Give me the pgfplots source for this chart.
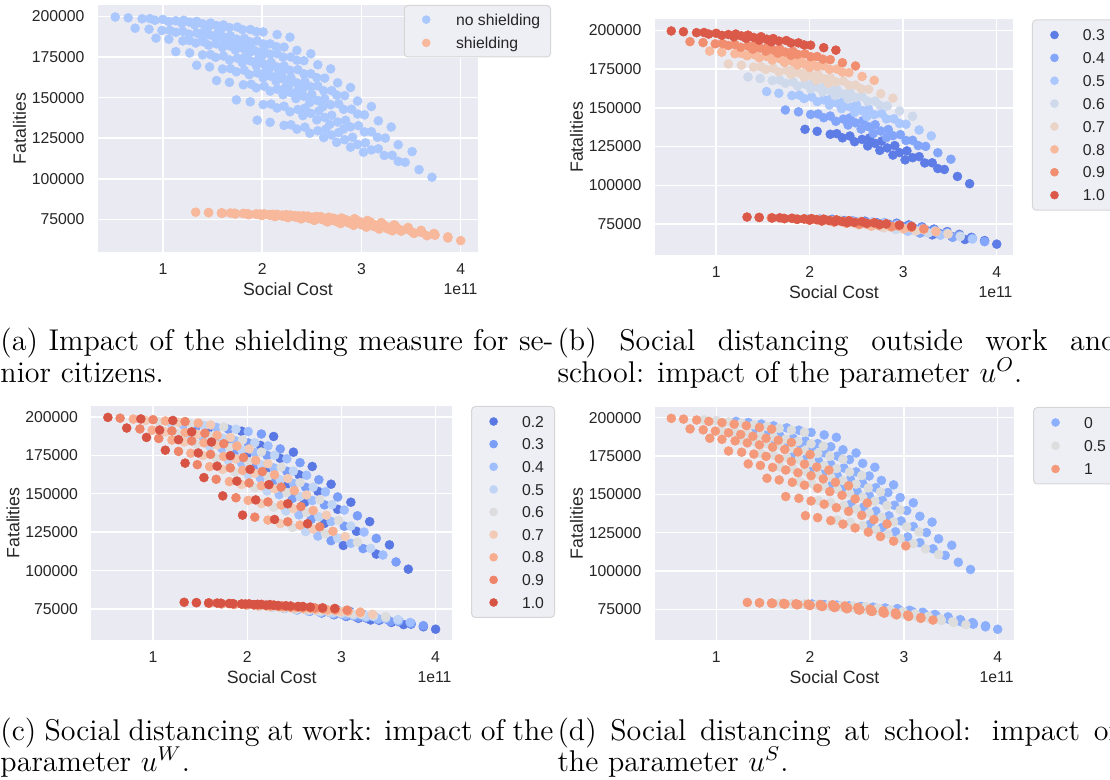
\documentclass[border=0pt]{standalone}
\usepackage{fontspec}
\usepackage{pgfplots}
\usepackage{pgfplotstable}
\pgfplotsset{compat=1.18}
\newfontfamily\snsfont{Liberation Sans}
\newcommand\tickf{\snsfont\fontsize{6.3}{7.6}\selectfont}
\newcommand\labf{\snsfont\fontsize{7.1}{8.5}\selectfont}
\newcommand\capf{\fontsize{12}{12.7}\selectfont}
\definecolor{sbg}{HTML}{EAEAF2}
\definecolor{stxt}{HTML}{262626}
\definecolor{lgfill}{HTML}{EEEEF5}
\definecolor{lgedge}{HTML}{D6D6D6}
\definecolor{aN}{HTML}{AAC7FE}
\definecolor{aS}{HTML}{F7B89B}
\definecolor{bO3}{HTML}{5D7CE6}
\definecolor{bO4}{HTML}{83A6FB}
\definecolor{bO5}{HTML}{AAC7FE}
\definecolor{bO6}{HTML}{CED9EC}
\definecolor{bO7}{HTML}{EAD4C8}
\definecolor{bO8}{HTML}{F7B89B}
\definecolor{bO9}{HTML}{F18E70}
\definecolor{bO10}{HTML}{DA5948}
\definecolor{cW2}{HTML}{5978E3}
\definecolor{cW3}{HTML}{7B9EF9}
\definecolor{cW4}{HTML}{9FBEFF}
\definecolor{cW5}{HTML}{C0D4F5}
\definecolor{cW6}{HTML}{DDDDDD}
\definecolor{cW7}{HTML}{F2CAB6}
\definecolor{cW8}{HTML}{F7AD8E}
\definecolor{cW9}{HTML}{EE8568}
\definecolor{cW10}{HTML}{D75344}
\definecolor{dS0}{HTML}{8DB0FE}
\definecolor{dS5}{HTML}{DDDDDD}
\definecolor{dS10}{HTML}{F49A7B}

% columns: social cost (1e11), fatalities, 10*u^O, 10*u^W, 10*u^S, shielding (0 = no, 1 = yes)
\pgfplotstableread{
x y o w s h
3.71 101000 3 2 0 0
3.37 110800 3 2 5 0
3.02 116400 3 2 10 0
3.58 105700 3 3 0 0
3.23 114400 3 3 5 0
2.89 119500 3 3 10 0
3.44 110200 3 4 0 0
3.10 117800 3 4 5 0
2.75 122500 3 4 10 0
3.31 114500 3 5 0 0
2.96 121100 3 5 5 0
2.62 125400 3 5 10 0
3.17 118500 3 6 0 0
2.83 124100 3 6 5 0
2.48 128100 3 6 10 0
3.04 122200 3 7 0 0
2.70 127000 3 7 5 0
2.35 130600 3 7 10 0
2.91 125600 3 8 0 0
2.56 129600 3 8 5 0
2.22 132900 3 8 10 0
2.77 128500 3 9 0 0
2.43 131800 3 9 5 0
2.08 134800 3 9 10 0
2.64 130500 3 10 0 0
2.29 133300 3 10 5 0
1.95 136100 3 10 10 0
3.51 116800 4 2 0 0
3.16 125600 4 2 5 0
2.82 130700 4 2 10 0
3.37 121000 4 3 0 0
3.03 128900 4 3 5 0
2.68 133500 4 3 10 0
3.24 125100 4 4 0 0
2.89 132000 4 4 5 0
2.55 136300 4 4 10 0
3.10 129000 4 5 0 0
2.76 135000 4 5 5 0
2.41 138900 4 5 10 0
2.97 132700 4 6 0 0
2.63 137800 4 6 5 0
2.28 141300 4 6 10 0
2.84 136000 4 7 0 0
2.49 140300 4 7 5 0
2.15 143600 4 7 10 0
2.70 139100 4 8 0 0
2.36 142700 4 8 5 0
2.01 145700 4 8 10 0
2.57 141700 4 9 0 0
2.22 144700 4 9 5 0
1.88 147400 4 9 10 0
2.43 143500 4 10 0 0
2.09 146000 4 10 5 0
1.74 148600 4 10 10 0
3.30 131900 5 2 0 0
2.96 139900 5 2 5 0
2.61 144400 5 2 10 0
3.17 135700 5 3 0 0
2.82 142800 5 3 5 0
2.48 147000 5 3 10 0
3.03 139400 5 4 0 0
2.69 145600 5 4 5 0
2.34 149400 5 4 10 0
2.90 142900 5 5 0 0
2.56 148200 5 5 5 0
2.21 151800 5 5 10 0
2.77 146200 5 6 0 0
2.42 150800 5 6 5 0
2.08 154000 5 6 10 0
2.63 149200 5 7 0 0
2.29 153100 5 7 5 0
1.94 156000 5 7 10 0
2.50 152000 5 8 0 0
2.15 155200 5 8 5 0
1.81 157900 5 8 10 0
2.36 154300 5 9 0 0
2.02 157000 5 9 5 0
1.67 159400 5 9 10 0
2.23 155900 5 10 0 0
1.89 158200 5 10 5 0
1.54 160500 5 10 10 0
3.10 144500 6 2 0 0
2.75 151600 6 2 5 0
2.41 155600 6 2 10 0
2.96 147900 6 3 0 0
2.62 154200 6 3 5 0
2.27 157900 6 3 10 0
2.83 151200 6 4 0 0
2.49 156700 6 4 5 0
2.14 160100 6 4 10 0
2.70 154300 6 5 0 0
2.35 159000 6 5 5 0
2.01 162200 6 5 10 0
2.56 157200 6 6 0 0
2.22 161300 6 6 5 0
1.87 164100 6 6 10 0
2.43 159900 6 7 0 0
2.08 163300 6 7 5 0
1.74 165900 6 7 10 0
2.29 162300 6 8 0 0
1.95 165200 6 8 5 0
1.60 167600 6 8 10 0
2.16 164400 6 9 0 0
1.82 166800 6 9 5 0
1.47 168900 6 9 10 0
2.03 165800 6 10 0 0
1.68 167900 6 10 5 0
1.34 169900 6 10 10 0
2.89 156200 7 2 0 0
2.55 162300 7 2 5 0
2.20 165800 7 2 10 0
2.76 159100 7 3 0 0
2.42 164600 7 3 5 0
2.07 167800 7 3 10 0
2.63 162000 7 4 0 0
2.28 166800 7 4 5 0
1.94 169700 7 4 10 0
2.49 164700 7 5 0 0
2.15 168800 7 5 5 0
1.80 171500 7 5 10 0
2.36 167200 7 6 0 0
2.01 170800 7 6 5 0
1.67 173200 7 6 10 0
2.22 169500 7 7 0 0
1.88 172600 7 7 5 0
1.53 174800 7 7 10 0
2.09 171700 7 8 0 0
1.75 174200 7 8 5 0
1.40 176300 7 8 10 0
1.96 173500 7 9 0 0
1.61 175600 7 9 5 0
1.27 177500 7 9 10 0
1.82 174700 7 10 0 0
1.48 176500 7 10 5 0
1.13 178300 7 10 10 0
2.69 167700 8 2 0 0
2.35 173000 8 2 5 0
2.00 176000 8 2 10 0
2.56 170200 8 3 0 0
2.21 174900 8 3 5 0
1.87 177700 8 3 10 0
2.42 172700 8 4 0 0
2.08 176700 8 4 5 0
1.73 179300 8 4 10 0
2.29 175000 8 5 0 0
1.94 178500 8 5 5 0
1.60 180800 8 5 10 0
2.15 177100 8 6 0 0
1.81 180200 8 6 5 0
1.46 182300 8 6 10 0
2.02 179100 8 7 0 0
1.68 181700 8 7 5 0
1.33 183600 8 7 10 0
1.89 181000 8 8 0 0
1.54 183100 8 8 5 0
1.20 184900 8 8 10 0
1.75 182500 8 9 0 0
1.41 184300 8 9 5 0
1.06 185900 8 9 10 0
1.62 183600 8 10 0 0
1.27 185100 8 10 5 0
0.93 186600 8 10 10 0
2.49 177000 9 2 0 0
2.14 181400 9 2 5 0
1.80 183900 9 2 10 0
2.35 179100 9 3 0 0
2.01 183000 9 3 5 0
1.66 185300 9 3 10 0
2.22 181100 9 4 0 0
1.87 184500 9 4 5 0
1.53 186600 9 4 10 0
2.08 183100 9 5 0 0
1.74 186000 9 5 5 0
1.39 187900 9 5 10 0
1.95 184900 9 6 0 0
1.61 187400 9 6 5 0
1.26 189100 9 6 10 0
1.82 186500 9 7 0 0
1.47 188600 9 7 5 0
1.13 190200 9 7 10 0
1.68 188000 9 8 0 0
1.34 189800 9 8 5 0
0.99 191300 9 8 10 0
1.55 189300 9 9 0 0
1.20 190800 9 9 5 0
0.86 192100 9 9 10 0
1.41 190200 9 10 0 0
1.07 191400 9 10 5 0
0.72 192700 9 10 10 0
2.28 187200 10 2 0 0
1.94 190600 10 2 5 0
1.59 192600 10 2 10 0
2.15 188800 10 3 0 0
1.80 191900 10 3 5 0
1.46 193700 10 3 10 0
2.01 190400 10 4 0 0
1.67 193100 10 4 5 0
1.32 194800 10 4 10 0
1.88 191900 10 5 0 0
1.54 194300 10 5 5 0
1.19 195800 10 5 10 0
1.75 193400 10 6 0 0
1.40 195400 10 6 5 0
1.06 196800 10 6 10 0
1.61 194700 10 7 0 0
1.27 196400 10 7 5 0
0.92 197600 10 7 10 0
1.48 195900 10 8 0 0
1.13 197300 10 8 5 0
0.79 198500 10 8 10 0
1.34 196900 10 9 0 0
1.00 198100 10 9 5 0
0.65 199100 10 9 10 0
1.21 197600 10 10 0 0
0.87 198600 10 10 5 0
0.52 199600 10 10 10 0
4.00 62000 3 2 0 1
3.66 65000 3 2 5 1
3.31 68000 3 2 10 1
3.87 64300 3 3 0 1
3.52 67000 3 3 5 1
3.18 69700 3 3 10 1
3.73 66400 3 4 0 1
3.39 68800 3 4 5 1
3.04 71300 3 4 10 1
3.60 68300 3 5 0 1
3.26 70500 3 5 5 1
2.91 72700 3 5 10 1
3.47 70100 3 6 0 1
3.12 72100 3 6 5 1
2.78 74000 3 6 10 1
3.33 71700 3 7 0 1
2.99 73500 3 7 5 1
2.64 75200 3 7 10 1
3.20 73100 3 8 0 1
2.85 74700 3 8 5 1
2.51 76300 3 8 10 1
3.06 74400 3 9 0 1
2.72 75800 3 9 5 1
2.37 77200 3 9 10 1
2.93 75500 3 10 0 1
2.59 76800 3 10 5 1
2.24 78000 3 10 10 1
3.87 63600 4 2 0 1
3.53 66400 4 2 5 1
3.18 69100 4 2 10 1
3.74 65700 4 3 0 1
3.39 68200 4 3 5 1
3.05 70700 4 3 10 1
3.60 67600 4 4 0 1
3.26 69900 4 4 5 1
2.91 72100 4 4 10 1
3.47 69400 4 5 0 1
3.13 71400 4 5 5 1
2.78 73400 4 5 10 1
3.34 71000 4 6 0 1
2.99 72800 4 6 5 1
2.65 74600 4 6 10 1
3.20 72500 4 7 0 1
2.86 74100 4 7 5 1
2.51 75700 4 7 10 1
3.07 73800 4 8 0 1
2.72 75200 4 8 5 1
2.38 76600 4 8 10 1
2.93 74900 4 9 0 1
2.59 76200 4 9 5 1
2.24 77500 4 9 10 1
2.80 75900 4 10 0 1
2.46 77100 4 10 5 1
2.11 78200 4 10 10 1
3.74 65300 5 2 0 1
3.40 67800 5 2 5 1
3.05 70300 5 2 10 1
3.61 67200 5 3 0 1
3.26 69400 5 3 5 1
2.92 71700 5 3 10 1
3.47 68900 5 4 0 1
3.13 70900 5 4 5 1
2.78 72900 5 4 10 1
3.34 70500 5 5 0 1
3.00 72300 5 5 5 1
2.65 74100 5 5 10 1
3.21 71900 5 6 0 1
2.86 73600 5 6 5 1
2.52 75200 5 6 10 1
3.07 73300 5 7 0 1
2.73 74700 5 7 5 1
2.38 76100 5 7 10 1
2.94 74400 5 8 0 1
2.59 75700 5 8 5 1
2.25 77000 5 8 10 1
2.80 75500 5 9 0 1
2.46 76600 5 9 5 1
2.11 77800 5 9 10 1
2.67 76400 5 10 0 1
2.33 77400 5 10 5 1
1.98 78400 5 10 10 1
3.61 66900 6 2 0 1
3.27 69200 6 2 5 1
2.92 71400 6 2 10 1
3.48 68600 6 3 0 1
3.13 70600 6 3 5 1
2.79 72600 6 3 10 1
3.34 70100 6 4 0 1
3.00 72000 6 4 5 1
2.65 73800 6 4 10 1
3.21 71600 6 5 0 1
2.87 73200 6 5 5 1
2.52 74800 6 5 10 1
3.08 72900 6 6 0 1
2.73 74300 6 6 5 1
2.39 75800 6 6 10 1
2.94 74000 6 7 0 1
2.60 75300 6 7 5 1
2.25 76600 6 7 10 1
2.81 75100 6 8 0 1
2.46 76200 6 8 5 1
2.12 77400 6 8 10 1
2.67 76000 6 9 0 1
2.33 77000 6 9 5 1
1.98 78100 6 9 10 1
2.54 76800 6 10 0 1
2.20 77700 6 10 5 1
1.85 78600 6 10 10 1
3.48 68600 7 2 0 1
3.14 70600 7 2 5 1
2.79 72600 7 2 10 1
3.35 70000 7 3 0 1
3.00 71800 7 3 5 1
2.66 73600 7 3 10 1
3.21 71400 7 4 0 1
2.87 73000 7 4 5 1
2.52 74600 7 4 10 1
3.08 72600 7 5 0 1
2.74 74100 7 5 5 1
2.39 75500 7 5 10 1
2.95 73800 7 6 0 1
2.60 75100 7 6 5 1
2.26 76400 7 6 10 1
2.81 74800 7 7 0 1
2.47 75900 7 7 5 1
2.12 77100 7 7 10 1
2.68 75700 7 8 0 1
2.33 76700 7 8 5 1
1.99 77800 7 8 10 1
2.54 76500 7 9 0 1
2.20 77400 7 9 5 1
1.85 78400 7 9 10 1
2.41 77200 7 10 0 1
2.07 78000 7 10 5 1
1.72 78900 7 10 10 1
3.35 70200 8 2 0 1
3.01 72000 8 2 5 1
2.66 73700 8 2 10 1
3.22 71500 8 3 0 1
2.87 73100 8 3 5 1
2.53 74600 8 3 10 1
3.08 72600 8 4 0 1
2.74 74000 8 4 5 1
2.39 75500 8 4 10 1
2.95 73700 8 5 0 1
2.61 75000 8 5 5 1
2.26 76200 8 5 10 1
2.82 74700 8 6 0 1
2.47 75800 8 6 5 1
2.13 76900 8 6 10 1
2.68 75600 8 7 0 1
2.34 76600 8 7 5 1
1.99 77600 8 7 10 1
2.55 76300 8 8 0 1
2.20 77200 8 8 5 1
1.86 78100 8 8 10 1
2.41 77000 8 9 0 1
2.07 77800 8 9 5 1
1.72 78600 8 9 10 1
2.28 77600 8 10 0 1
1.94 78400 8 10 5 1
1.59 79100 8 10 10 1
3.22 71900 9 2 0 1
2.88 73400 9 2 5 1
2.53 74900 9 2 10 1
3.09 72900 9 3 0 1
2.74 74300 9 3 5 1
2.40 75600 9 3 10 1
2.95 73900 9 4 0 1
2.61 75100 9 4 5 1
2.26 76300 9 4 10 1
2.82 74800 9 5 0 1
2.48 75900 9 5 5 1
2.13 76900 9 5 10 1
2.69 75600 9 6 0 1
2.34 76600 9 6 5 1
2.00 77500 9 6 10 1
2.55 76300 9 7 0 1
2.21 77200 9 7 5 1
1.86 78000 9 7 10 1
2.42 77000 9 8 0 1
2.07 77800 9 8 5 1
1.73 78500 9 8 10 1
2.28 77600 9 9 0 1
1.94 78300 9 9 5 1
1.59 78900 9 9 10 1
2.15 78100 9 10 0 1
1.81 78700 9 10 5 1
1.46 79300 9 10 10 1
3.09 73500 10 2 0 1
2.75 74800 10 2 5 1
2.40 76000 10 2 10 1
2.96 74300 10 3 0 1
2.61 75500 10 3 5 1
2.27 76600 10 3 10 1
2.82 75100 10 4 0 1
2.48 76100 10 4 5 1
2.13 77100 10 4 10 1
2.69 75800 10 5 0 1
2.35 76700 10 5 5 1
2.00 77600 10 5 10 1
2.56 76500 10 6 0 1
2.21 77300 10 6 5 1
1.87 78100 10 6 10 1
2.42 77100 10 7 0 1
2.08 77800 10 7 5 1
1.73 78500 10 7 10 1
2.29 77600 10 8 0 1
1.94 78300 10 8 5 1
1.60 78900 10 8 10 1
2.15 78100 10 9 0 1
1.81 78700 10 9 5 1
1.46 79200 10 9 10 1
2.02 78500 10 10 0 1
1.68 79000 10 10 5 1
1.33 79500 10 10 10 1
}\pts

\pgfplotsset{
  dot/.style={only marks, mark=*, mark size=1.8pt, mark options={line width=0.2pt}},
  snsax/.style={
    scale only axis,
    clip=false,
    axis background/.style={fill=sbg},
    axis line style={draw=none},
    xmajorgrids, ymajorgrids,
    grid style={white, line width=0.6pt},
    major tick length=0pt,
    tick style={draw=none},
    xmin=0.346, xmax=4.174, ymin=55000, ymax=207000,
    xtick={1,2,3,4}, xticklabels={1,2,3,4},
    ytick={75000,100000,125000,150000,175000,200000},
    yticklabels={75000,100000,125000,150000,175000,200000},
    scaled ticks=false,
    tick label style={font=\tickf, text=stxt},
    xticklabel style={anchor=center, yshift=-7pt},
    yticklabel style={anchor=east, inner sep=0pt, xshift=-5.2pt},
    xlabel={Social Cost}, ylabel={Fatalities},
    label style={font=\labf, text=stxt},
    xlabel style={at={(axis description cs:0.5,0)}, anchor=center, yshift=-15pt},
    ylabel style={at={([xshift=-31.4pt]axis description cs:0,0.5)}, anchor=center},
    legend style={at={(axis description cs:1.053,1)}, anchor=north west,
      draw=lgedge, fill=lgfill, rounded corners=1.5pt, line width=0.4pt,
      font=\tickf, text=stxt, inner xsep=4.2pt, inner ysep=3.7pt,
      row sep=4.55pt, column sep=6.8pt,
      nodes={inner sep=0pt, text height=4.6pt, text depth=0pt},
      cells={anchor=west}},
    legend image code/.code={\path[draw=none, fill=none] (-4.6pt,-2.3pt) rectangle (4.6pt,2.3pt);
      \draw[##1, mark size=1.6pt] plot coordinates {(0pt,0pt)};},
  },
}

\begin{document}
\begin{tikzpicture}
\useasboundingbox (0pt,0pt) rectangle (444pt,-312pt);

% (a)
\begin{axis}[snsax, at={(39.2pt,-2pt)}, anchor=north west, width=152pt, height=98.8pt,
  legend style={at={(axis description cs:0.8046,1)}, anchor=north west, row sep=4.7pt,
    inner ysep=3.35pt, column sep=7.3pt}]
\addplot[dot, aN, restrict expr to domain={\thisrow{h}}{0:0}] table[x=x,y=y] {\pts};
\addplot[dot, aS, restrict expr to domain={\thisrow{h}}{1:1}] table[x=x,y=y] {\pts};
\legend{no shielding,shielding}
\node[anchor=east, font=\tickf, text=stxt, inner sep=0pt] at ([yshift=-15pt]axis description cs:1,0) {1e11};
\end{axis}

% (b)
\begin{axis}[snsax, at={(262pt,-7.8pt)}, anchor=north west, width=143.2pt, height=94.2pt]
\addplot[dot, bO3, restrict expr to domain={\thisrow{o}}{3:3}] table[x=x,y=y] {\pts};
\addplot[dot, bO4, restrict expr to domain={\thisrow{o}}{4:4}] table[x=x,y=y] {\pts};
\addplot[dot, bO5, restrict expr to domain={\thisrow{o}}{5:5}] table[x=x,y=y] {\pts};
\addplot[dot, bO6, restrict expr to domain={\thisrow{o}}{6:6}] table[x=x,y=y] {\pts};
\addplot[dot, bO7, restrict expr to domain={\thisrow{o}}{7:7}] table[x=x,y=y] {\pts};
\addplot[dot, bO8, restrict expr to domain={\thisrow{o}}{8:8}] table[x=x,y=y] {\pts};
\addplot[dot, bO9, restrict expr to domain={\thisrow{o}}{9:9}] table[x=x,y=y] {\pts};
\addplot[dot, bO10, restrict expr to domain={\thisrow{o}}{10:10}] table[x=x,y=y] {\pts};
\legend{0.3,0.4,0.5,0.6,0.7,0.8,0.9,1.0}
\node[anchor=east, font=\tickf, text=stxt, inner sep=0pt] at ([yshift=-15pt]axis description cs:1,0) {1e11};
\end{axis}

% (c)
\begin{axis}[snsax, at={(36.6pt,-162.4pt)}, anchor=north west, width=144.2pt, height=93.6pt,
  legend style={row sep=4.45pt}]
\addplot[dot, cW2, restrict expr to domain={\thisrow{w}}{2:2}] table[x=x,y=y] {\pts};
\addplot[dot, cW3, restrict expr to domain={\thisrow{w}}{3:3}] table[x=x,y=y] {\pts};
\addplot[dot, cW4, restrict expr to domain={\thisrow{w}}{4:4}] table[x=x,y=y] {\pts};
\addplot[dot, cW5, restrict expr to domain={\thisrow{w}}{5:5}] table[x=x,y=y] {\pts};
\addplot[dot, cW6, restrict expr to domain={\thisrow{w}}{6:6}] table[x=x,y=y] {\pts};
\addplot[dot, cW7, restrict expr to domain={\thisrow{w}}{7:7}] table[x=x,y=y] {\pts};
\addplot[dot, cW8, restrict expr to domain={\thisrow{w}}{8:8}] table[x=x,y=y] {\pts};
\addplot[dot, cW9, restrict expr to domain={\thisrow{w}}{9:9}] table[x=x,y=y] {\pts};
\addplot[dot, cW10, restrict expr to domain={\thisrow{w}}{10:10}] table[x=x,y=y] {\pts};
\legend{0.2,0.3,0.4,0.5,0.6,0.7,0.8,0.9,1.0}
\node[anchor=east, font=\tickf, text=stxt, inner sep=0pt] at ([yshift=-15pt]axis description cs:1,0) {1e11};
\end{axis}

% (d)
\begin{axis}[snsax, at={(262pt,-162.8pt)}, anchor=north west, width=143.6pt, height=93.2pt,
  legend style={row sep=4.7pt}]
\addplot[dot, dS0, restrict expr to domain={\thisrow{s}}{0:0}] table[x=x,y=y] {\pts};
\addplot[dot, dS5, restrict expr to domain={\thisrow{s}}{5:5}] table[x=x,y=y] {\pts};
\addplot[dot, dS10, restrict expr to domain={\thisrow{s}}{10:10}] table[x=x,y=y] {\pts};
\legend{0,0.5,1}
\node[anchor=east, font=\tickf, text=stxt, inner sep=0pt] at ([yshift=-15pt]axis description cs:1,0) {1e11};
\end{axis}

% captions
\node[anchor=base west, inner sep=0pt, font=\capf] at (0pt,-140.4pt) {\makebox[221.2pt][s]{(a) Impact of the shielding measure for se-}};
\node[anchor=base west, inner sep=0pt, font=\capf] at (0pt,-153pt) {nior citizens.};
\node[anchor=base west, inner sep=0pt, font=\capf] at (222.8pt,-140.4pt) {\makebox[224pt][s]{(b) Social distancing outside work and}};
\node[anchor=base west, inner sep=0pt, font=\capf] at (222.8pt,-153pt) {school: impact of the parameter $u^O$.};
\node[anchor=base west, inner sep=0pt, font=\capf] at (0pt,-296pt) {\makebox[221.2pt][s]{(c) Social distancing at work: impact of the}};
\node[anchor=base west, inner sep=0pt, font=\capf] at (0pt,-308.6pt) {parameter $u^W$.};
\node[anchor=base west, inner sep=0pt, font=\capf] at (222.8pt,-296pt) {\makebox[224pt][s]{(d) Social distancing at school: impact of}};
\node[anchor=base west, inner sep=0pt, font=\capf] at (222.8pt,-308.6pt) {the parameter $u^S$.};
\end{tikzpicture}
\end{document}
